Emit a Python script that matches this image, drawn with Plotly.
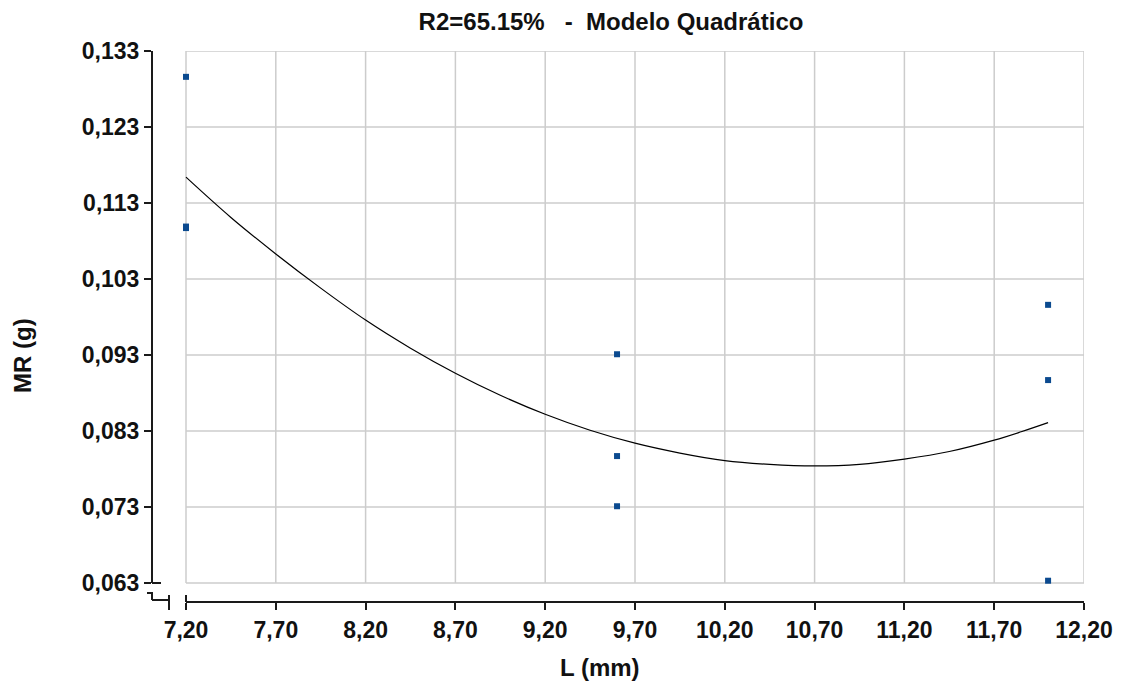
import plotly.graph_objects as go

# ---- data ----
obs_x = [7.2, 7.2, 7.2, 9.6, 9.6, 9.6, 12.0, 12.0, 12.0]
obs_y = [0.1296, 0.1097, 0.1099, 0.0931, 0.0797, 0.0731, 0.0996, 0.0897, 0.0633]

fit_x = [7.2, 7.45, 7.7, 7.95, 8.2, 8.45, 8.7, 8.95, 9.2, 9.45, 9.7, 9.95, 10.2, 10.45,
         10.7, 10.95, 11.2, 11.45, 11.7, 11.85, 12.0]
fit_y = [0.1164, 0.1111, 0.1063, 0.1018, 0.0976, 0.0939, 0.0906, 0.0877, 0.0852, 0.0831,
         0.0814, 0.0801, 0.0791, 0.0786, 0.0784, 0.0786, 0.0793, 0.0803, 0.0818, 0.0829, 0.0841]

x_ticks = [7.2, 7.7, 8.2, 8.7, 9.2, 9.7, 10.2, 10.7, 11.2, 11.7, 12.2]
y_ticks = [0.063, 0.073, 0.083, 0.093, 0.103, 0.113, 0.123, 0.133]

title_text = "R2=65.15%   -  Modelo Quadrático"
x_title = "L (mm)"
y_title = "MR (g)"

# ---- layout geometry (page pixels; the page body has an 8px margin) ----
OFF = 8
W, H = 1133 - OFF, 682 - OFF
PL, PR, PT, PB = 152, 1084, 51, 602          # plot area in page pixels
L, R, T, B = PL - OFF, (W + OFF) - PR, PT - OFF, (H + OFF) - PB
pw, ph = PR - PL, PB - PT
px_per_x = 89.8 / 0.5
px_per_y = 76.0 / 0.01
x_max, y_max = 12.2, 0.133
x_min = x_max - pw / px_per_x
y_min = y_max - ph / px_per_y

FONT = "Liberation Sans, Arial, sans-serif"
AX = "#1a1a1a"
GRID = "#cccccc"
TXT = "#111111"

fig = go.Figure()
fig.add_trace(go.Scatter(x=fit_x, y=fit_y, mode="lines", line=dict(color="black", width=1.2, shape="spline"),
                         hoverinfo="skip", showlegend=False))
fig.add_trace(go.Scatter(x=obs_x, y=obs_y, mode="markers",
                         marker=dict(symbol="square", size=6, color="#0b4a8f"), showlegend=False))

shapes = []
for xv in x_ticks:
    shapes.append(dict(type="line", xref="x", yref="y", x0=xv, x1=xv, y0=y_ticks[0], y1=y_ticks[-1],
                       line=dict(color=GRID, width=1.5), layer="below"))
for yv in y_ticks:
    shapes.append(dict(type="line", xref="x", yref="y", x0=x_ticks[0], x1=x_ticks[-1], y0=yv, y1=yv,
                       line=dict(color=GRID, width=1.5), layer="below"))
# axis lines
shapes.append(dict(type="line", xref="paper", yref="y", x0=0, x1=0, y0=y_ticks[0], y1=y_ticks[-1],
                   line=dict(color=AX, width=2)))
shapes.append(dict(type="line", xref="x", yref="paper", x0=x_ticks[0], x1=x_ticks[-1], y0=0, y1=0,
                   line=dict(color=AX, width=2)))


def P(px, py):
    return (px - PL) / pw, (PB - py) / ph


# axis-break marks
def seg(a, b):
    (x0, y0), (x1, y1) = P(*a), P(*b)
    shapes.append(dict(type="line", xref="paper", yref="paper", x0=x0, y0=y0, x1=x1, y1=y1,
                       line=dict(color=AX, width=2)))


seg((152, 583), (161, 583))
seg((147, 593), (153, 593))
seg((152, 593), (152, 600))
seg((152, 600), (169, 600))
seg((169, 595), (169, 610))
seg((186, 595), (186, 602))

tick_font = dict(family=FONT, size=23, color=TXT, weight="bold")
lab_font = dict(family=FONT, size=24, color=TXT, weight="bold")

ax_x, ax_y = P(600, 667)
ay_x, ay_y = P(22, 356)
annotations = [
    dict(text=x_title, xref="paper", yref="paper", x=ax_x, y=ax_y, xanchor="center", yanchor="middle",
         showarrow=False, font=lab_font),
    dict(text=y_title, xref="paper", yref="paper", x=ay_x, y=ay_y, xanchor="center", yanchor="middle",
         textangle=-90, showarrow=False, font=lab_font),
]

fig.update_layout(
    width=W, height=H,
    margin=dict(l=L, r=R, t=T, b=B, autoexpand=False),
    paper_bgcolor="white", plot_bgcolor="white",
    separators=",.",
    font=dict(family=FONT, color=TXT),
    title=dict(text=title_text, x=(611 - OFF) / W, xref="container", xanchor="center",
               y=1 - (22 - OFF) / H, yref="container", yanchor="middle", font=lab_font),
    xaxis=dict(range=[x_min, x_max], tickvals=x_ticks, tickformat=".2f", showgrid=False, zeroline=False,
               showline=False, ticks="outside", ticklen=7, tickwidth=2, tickcolor=AX, automargin=False,
               tickfont=tick_font),
    yaxis=dict(range=[y_min, y_max], tickvals=y_ticks, tickformat=".3f", showgrid=False, zeroline=False,
               showline=False, ticks="outside", ticklen=7, tickwidth=2, tickcolor=AX, automargin=False,
               tickfont=tick_font),
    shapes=shapes,
    annotations=annotations,
)

fig.write_html("out.html")
